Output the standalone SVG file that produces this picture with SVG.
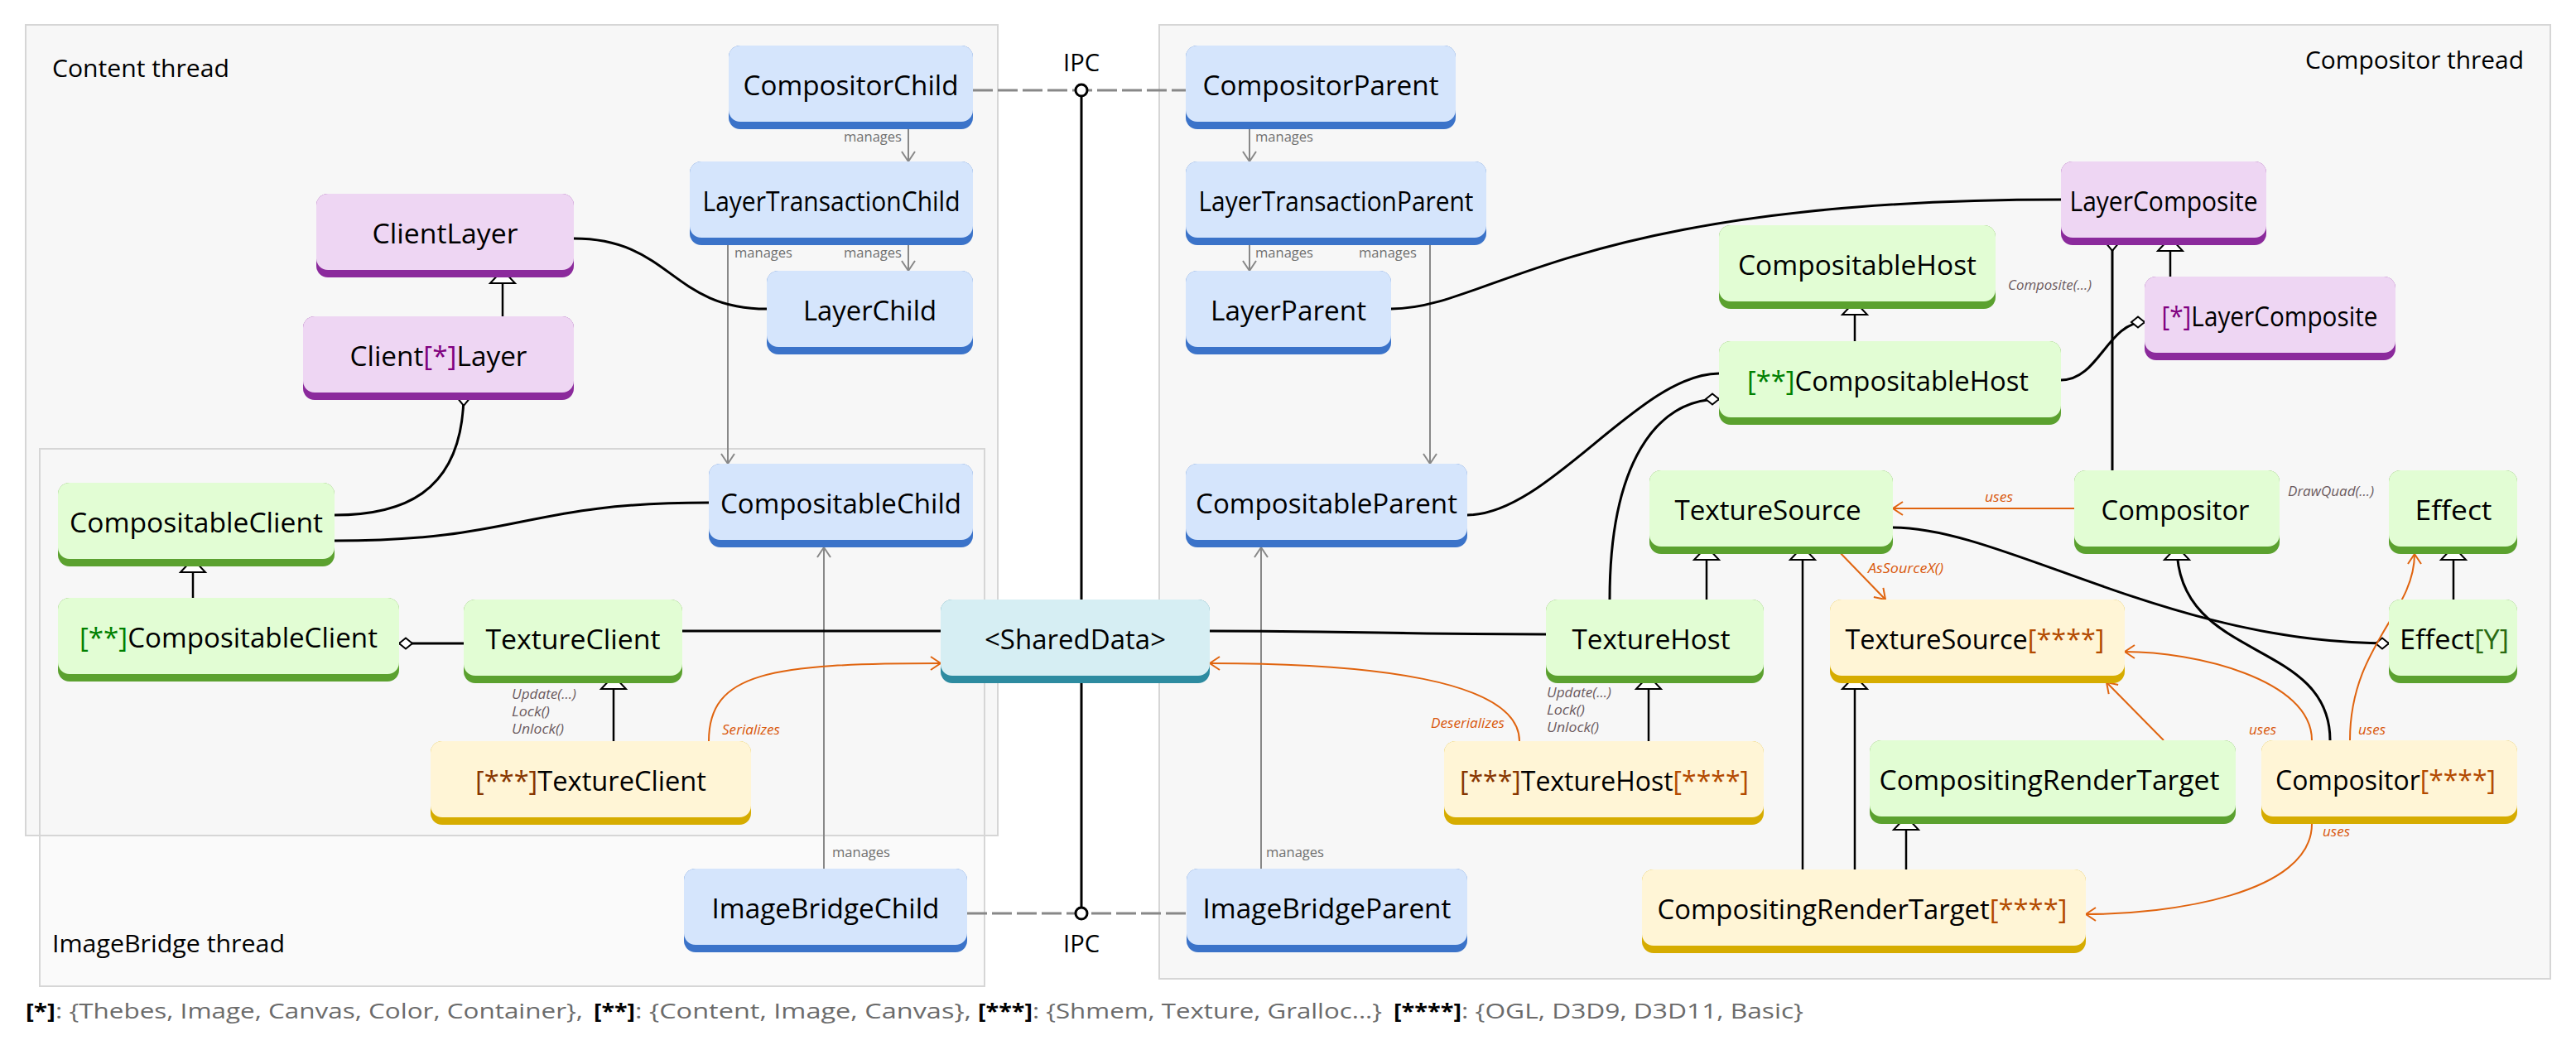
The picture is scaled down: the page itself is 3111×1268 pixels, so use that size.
<svg xmlns="http://www.w3.org/2000/svg" width="3111" height="1268" viewBox="0 0 3111 1268">
<style>
text{font-family:"Open Sans","Liberation Sans",sans-serif}
.lbl{font-size:32px;text-anchor:middle;fill:#000}
.title{font-size:30px;fill:#000}
.blue .b{fill:#3b73c9}.blue .l{fill:#d5e5fc}
.purple .b{fill:#8b2a9c}.purple .l{fill:#eed6f3}
.green .b{fill:#5ba12f}.green .l{fill:#e2fdd4}
.yellow .b{fill:#d6ac00}.yellow .l{fill:#fff5d6}
.cyan .b{fill:#2d8ba0}.cyan .l{fill:#d6eef3}
.s1{fill:#800080}.s2{fill:#008000}.s3{fill:#873600}.s4{fill:#b34a00}.sy{fill:#2a6a12}
.g{stroke:#888;stroke-width:2;fill:none}
.k{stroke:#000;stroke-width:3;fill:none}
.ki{stroke:#000;stroke-width:2.5;fill:none}
.o{stroke:#e0640f;stroke-width:2;fill:none}
.ipc{stroke:#888;stroke-width:3;stroke-dasharray:24 6;fill:none}
.mg{font-size:16px;fill:#707070}
.mt{font-size:17px;font-style:italic;fill:#6b5a5e}
.ol{font-size:17px;font-style:italic;fill:#d9570b}
.lg{font-size:25px;fill:#6b6b6b}
.lb{font-size:25px;font-weight:bold;fill:#000}
.cont{stroke:#d6d6d6;stroke-width:2}
</style>
<defs>
<marker id="tri" markerUnits="userSpaceOnUse" markerWidth="40" markerHeight="40" refX="17" refY="16" orient="auto" style="overflow:visible"><path d="M1,1 L17,16 L1,31 Z" fill="#fff" stroke="#000" stroke-width="2"/></marker>
<marker id="dia" markerUnits="userSpaceOnUse" markerWidth="40" markerHeight="40" refX="0" refY="7" orient="auto" style="overflow:visible"><path d="M0,7 L8,0.5 L16,7 L8,13.5 Z" fill="#fff" stroke="#000" stroke-width="2"/></marker>
<marker id="ag" markerUnits="userSpaceOnUse" markerWidth="40" markerHeight="40" refX="12" refY="8" orient="auto" style="overflow:visible"><path d="M0,0 L12,8 L0,16" fill="none" stroke="#888" stroke-width="2"/></marker>
<marker id="ao" markerUnits="userSpaceOnUse" markerWidth="40" markerHeight="40" refX="12" refY="8" orient="auto" style="overflow:visible"><path d="M0,0 L12,8 L0,16" fill="none" stroke="#e0640f" stroke-width="2"/></marker>
</defs>
<rect width="3111" height="1268" fill="#fff"/>

<g id="containers">
<rect x="48" y="542" width="1141" height="649" fill="#fafafa" class="cont"/>
<rect x="31" y="30" width="1174" height="979" fill="#f7f7f7" class="cont"/>
<rect x="48" y="542" width="1141" height="649" fill="none" class="cont"/>
<rect x="1400" y="30" width="1680" height="1152" fill="#f7f7f7" class="cont"/>
<text class="title" x="63" y="93" textLength="214" lengthAdjust="spacingAndGlyphs">Content thread</text>
<text class="title" x="2784" y="83" textLength="264" lengthAdjust="spacingAndGlyphs">Compositor thread</text>
<text class="title" x="63" y="1150" textLength="281" lengthAdjust="spacingAndGlyphs">ImageBridge thread</text>
<text class="title" x="1306" y="86" text-anchor="middle" textLength="44" lengthAdjust="spacingAndGlyphs">IPC</text>
<text class="title" x="1306" y="1150" text-anchor="middle" textLength="44" lengthAdjust="spacingAndGlyphs">IPC</text>
</g>

<g id="connectors">
<!-- IPC -->
<path class="k" d="M1306,117 L1306,1095"/>
<path class="ipc" d="M1175,109 L1432,109"/>
<path class="ipc" d="M1168,1103 L1434,1103"/>
<circle cx="1306" cy="109" r="7" fill="#fff" stroke="#000" stroke-width="3"/>
<circle cx="1306" cy="1103" r="7" fill="#fff" stroke="#000" stroke-width="3"/>
<!-- manages -->
<path class="g" d="M1097,156 L1097,195" marker-end="url(#ag)"/>
<path class="g" d="M1097,296 L1097,327" marker-end="url(#ag)"/>
<path class="g" d="M879,296 L879,560" marker-end="url(#ag)"/>
<path class="g" d="M1509,156 L1509,195" marker-end="url(#ag)"/>
<path class="g" d="M1509,296 L1509,327" marker-end="url(#ag)"/>
<path class="g" d="M1727,296 L1727,560" marker-end="url(#ag)"/>
<path class="g" d="M995,1049 L995,661" marker-end="url(#ag)"/>
<path class="g" d="M1523,1049 L1523,661" marker-end="url(#ag)"/>
<text class="mg" x="1089" y="171" text-anchor="end" textLength="70" lengthAdjust="spacingAndGlyphs">manages</text>
<text class="mg" x="1089" y="311" text-anchor="end" textLength="70" lengthAdjust="spacingAndGlyphs">manages</text>
<text class="mg" x="887" y="311" textLength="70" lengthAdjust="spacingAndGlyphs">manages</text>
<text class="mg" x="1516" y="171" textLength="70" lengthAdjust="spacingAndGlyphs">manages</text>
<text class="mg" x="1516" y="311" textLength="70" lengthAdjust="spacingAndGlyphs">manages</text>
<text class="mg" x="1711" y="311" text-anchor="end" textLength="70" lengthAdjust="spacingAndGlyphs">manages</text>
<text class="mg" x="1005" y="1035" textLength="70" lengthAdjust="spacingAndGlyphs">manages</text>
<text class="mg" x="1529" y="1035" textLength="70" lengthAdjust="spacingAndGlyphs">manages</text>
<!-- associations -->
<path class="k" d="M693,288 C810,288 810,373 926,373"/>
<path class="k" d="M560,474 C560,600 480,622 404,622" marker-start="url(#dia)"/>
<path class="k" d="M404,653 C630,653 630,607 856,607"/>
<path class="k" d="M482,777 L560,777" marker-start="url(#dia)"/>
<path class="k" d="M824,762 L1136,762"/>
<path class="k" d="M1461,762 C1660,762 1670,766 1867,766"/>
<path class="k" d="M1680,373 C1800,373 1900,241 2489,241"/>
<path class="k" d="M1772,622 C1870,622 1980,451 2076,451"/>
<path class="k" d="M2076,482 C2000,482 1944,560 1944,724" marker-start="url(#dia)"/>
<path class="k" d="M2590,389 C2545,389 2535,459 2489,459" marker-start="url(#dia)"/>
<path class="k" d="M2551,287 L2551,568" marker-start="url(#dia)"/>
<path class="k" d="M2885,777 C2620,777 2420,637 2286,637" marker-start="url(#dia)"/>
<!-- inheritance -->
<path class="ki" d="M607,382 L607,326" marker-end="url(#tri)"/>
<path class="ki" d="M233,722 L233,675" marker-end="url(#tri)"/>
<path class="ki" d="M741,895 L741,816" marker-end="url(#tri)"/>
<path class="ki" d="M1991,895 L1991,816" marker-end="url(#tri)"/>
<path class="ki" d="M2061,724 L2061,660" marker-end="url(#tri)"/>
<path class="ki" d="M2177,1050 L2177,660" marker-end="url(#tri)"/>
<path class="ki" d="M2240,1050 L2240,816" marker-end="url(#tri)"/>
<path class="ki" d="M2302,1050 L2302,986" marker-end="url(#tri)"/>
<path class="ki" d="M2963,724 L2963,660" marker-end="url(#tri)"/>
<path class="ki" d="M2240,412 L2240,364" marker-end="url(#tri)"/>
<path class="ki" d="M2621,334 L2621,287" marker-end="url(#tri)"/>
<path class="k" d="M2814,894 C2814,770 2629,800 2629,660" marker-end="url(#tri)"/>
<!-- uses -->
<path class="o" d="M856,895 C856,812 930,801 1136,801" marker-end="url(#ao)"/>
<path class="o" d="M1835,895 C1835,820 1650,801 1461,801" marker-end="url(#ao)"/>
<path class="o" d="M2505,614 L2286,614" marker-end="url(#ao)"/>
<path class="o" d="M2216,661 L2277,724" marker-end="url(#ao)"/>
<path class="o" d="M2613,894 L2544,824" marker-end="url(#ao)"/>
<path class="o" d="M2792,894 C2792,820 2650,787 2566,787" marker-end="url(#ao)"/>
<path class="o" d="M2838,894 C2838,780 2916,740 2916,669" marker-end="url(#ao)"/>
<path class="o" d="M2792,995 C2792,1080 2620,1104 2519,1104" marker-end="url(#ao)"/>
<text class="ol" x="872" y="887" textLength="70" lengthAdjust="spacingAndGlyphs">Serializes</text>
<text class="ol" x="1817" y="879" text-anchor="end" textLength="89" lengthAdjust="spacingAndGlyphs">Deserializes</text>
<text class="ol" x="2397" y="606" textLength="34" lengthAdjust="spacingAndGlyphs">uses</text>
<text class="ol" x="2256" y="692" textLength="91" lengthAdjust="spacingAndGlyphs">AsSourceX()</text>
<text class="ol" x="2716" y="887" textLength="33" lengthAdjust="spacingAndGlyphs">uses</text>
<text class="ol" x="2848" y="887" textLength="33" lengthAdjust="spacingAndGlyphs">uses</text>
<text class="ol" x="2805" y="1010" textLength="33" lengthAdjust="spacingAndGlyphs">uses</text>
<!-- method notes -->
<text class="mt" x="618" y="844" textLength="78" lengthAdjust="spacingAndGlyphs">Update(...)</text>
<text class="mt" x="618" y="865" textLength="46" lengthAdjust="spacingAndGlyphs">Lock()</text>
<text class="mt" x="618" y="886" textLength="63" lengthAdjust="spacingAndGlyphs">Unlock()</text>
<text class="mt" x="1868" y="842" textLength="78" lengthAdjust="spacingAndGlyphs">Update(...)</text>
<text class="mt" x="1868" y="863" textLength="46" lengthAdjust="spacingAndGlyphs">Lock()</text>
<text class="mt" x="1868" y="884" textLength="63" lengthAdjust="spacingAndGlyphs">Unlock()</text>
<text class="mt" x="2425" y="350" textLength="101" lengthAdjust="spacingAndGlyphs">Composite(...)</text>
<text class="mt" x="2763" y="599" textLength="104" lengthAdjust="spacingAndGlyphs">DrawQuad(...)</text>
</g>

<g id="CompositorChild" class="blue"><rect class="b" x="880" y="55" width="295" height="101" rx="14"/><rect class="l" x="880" y="55" width="295" height="92" rx="14"/><text class="lbl" x="1027.5" y="115" textLength="260" lengthAdjust="spacingAndGlyphs">CompositorChild</text></g>
<g id="LayerTransactionChild" class="blue"><rect class="b" x="833" y="195" width="342" height="101" rx="14"/><rect class="l" x="833" y="195" width="342" height="92" rx="14"/><text class="lbl" x="1004" y="255" textLength="311" lengthAdjust="spacingAndGlyphs">LayerTransactionChild</text></g>
<g id="LayerChild" class="blue"><rect class="b" x="926" y="327" width="249" height="101" rx="14"/><rect class="l" x="926" y="327" width="249" height="92" rx="14"/><text class="lbl" x="1050.5" y="387" textLength="161" lengthAdjust="spacingAndGlyphs">LayerChild</text></g>
<g id="ClientLayer" class="purple"><rect class="b" x="382" y="234" width="311" height="101" rx="14"/><rect class="l" x="382" y="234" width="311" height="92" rx="14"/><text class="lbl" x="537.5" y="294" textLength="176" lengthAdjust="spacingAndGlyphs">ClientLayer</text></g>
<g id="ClientStarLayer" class="purple"><rect class="b" x="366" y="382" width="327" height="101" rx="14"/><rect class="l" x="366" y="382" width="327" height="92" rx="14"/><text class="lbl" x="529.5" y="442" textLength="214" lengthAdjust="spacingAndGlyphs">Client<tspan class="s1">[*]</tspan>Layer</text></g>
<g id="CompositableChild" class="blue"><rect class="b" x="856" y="560" width="319" height="101" rx="14"/><rect class="l" x="856" y="560" width="319" height="92" rx="14"/><text class="lbl" x="1015.5" y="620" textLength="291" lengthAdjust="spacingAndGlyphs">CompositableChild</text></g>
<g id="CompositableClient" class="green"><rect class="b" x="70" y="583" width="334" height="101" rx="14"/><rect class="l" x="70" y="583" width="334" height="92" rx="14"/><text class="lbl" x="237" y="643" textLength="306" lengthAdjust="spacingAndGlyphs">CompositableClient</text></g>
<g id="StarStarCompositableClient" class="green"><rect class="b" x="70" y="722" width="412" height="101" rx="14"/><rect class="l" x="70" y="722" width="412" height="92" rx="14"/><text class="lbl" x="276" y="782" textLength="360" lengthAdjust="spacingAndGlyphs"><tspan class="s2">[**]</tspan>CompositableClient</text></g>
<g id="TextureClient" class="green"><rect class="b" x="560" y="724" width="264" height="101" rx="14"/><rect class="l" x="560" y="724" width="264" height="92" rx="14"/><text class="lbl" x="692" y="784" textLength="211" lengthAdjust="spacingAndGlyphs">TextureClient</text></g>
<g id="TripleStarTextureClient" class="yellow"><rect class="b" x="520" y="895" width="387" height="101" rx="14"/><rect class="l" x="520" y="895" width="387" height="92" rx="14"/><text class="lbl" x="713.5" y="955" textLength="279" lengthAdjust="spacingAndGlyphs"><tspan class="s3">[***]</tspan>TextureClient</text></g>
<g id="ImageBridgeChild" class="blue"><rect class="b" x="826" y="1049" width="342" height="101" rx="14"/><rect class="l" x="826" y="1049" width="342" height="92" rx="14"/><text class="lbl" x="997" y="1109" textLength="275" lengthAdjust="spacingAndGlyphs">ImageBridgeChild</text></g>
<g id="SharedData" class="cyan"><rect class="b" x="1136" y="724" width="325" height="101" rx="14"/><rect class="l" x="1136" y="724" width="325" height="92" rx="14"/><text class="lbl" x="1298.5" y="784" textLength="219" lengthAdjust="spacingAndGlyphs">&lt;SharedData&gt;</text></g>
<g id="CompositorParent" class="blue"><rect class="b" x="1432" y="55" width="326" height="101" rx="14"/><rect class="l" x="1432" y="55" width="326" height="92" rx="14"/><text class="lbl" x="1595" y="115" textLength="285" lengthAdjust="spacingAndGlyphs">CompositorParent</text></g>
<g id="LayerTransactionParent" class="blue"><rect class="b" x="1432" y="195" width="363" height="101" rx="14"/><rect class="l" x="1432" y="195" width="363" height="92" rx="14"/><text class="lbl" x="1613.5" y="255" textLength="332" lengthAdjust="spacingAndGlyphs">LayerTransactionParent</text></g>
<g id="LayerParent" class="blue"><rect class="b" x="1432" y="327" width="248" height="101" rx="14"/><rect class="l" x="1432" y="327" width="248" height="92" rx="14"/><text class="lbl" x="1556" y="387" textLength="188" lengthAdjust="spacingAndGlyphs">LayerParent</text></g>
<g id="CompositableParent" class="blue"><rect class="b" x="1432" y="560" width="340" height="101" rx="14"/><rect class="l" x="1432" y="560" width="340" height="92" rx="14"/><text class="lbl" x="1602" y="620" textLength="316" lengthAdjust="spacingAndGlyphs">CompositableParent</text></g>
<g id="ImageBridgeParent" class="blue"><rect class="b" x="1433" y="1049" width="339" height="101" rx="14"/><rect class="l" x="1433" y="1049" width="339" height="92" rx="14"/><text class="lbl" x="1602.5" y="1109" textLength="300" lengthAdjust="spacingAndGlyphs">ImageBridgeParent</text></g>
<g id="CompositableHost" class="green"><rect class="b" x="2076" y="272" width="334" height="101" rx="14"/><rect class="l" x="2076" y="272" width="334" height="92" rx="14"/><text class="lbl" x="2243" y="332" textLength="288" lengthAdjust="spacingAndGlyphs">CompositableHost</text></g>
<g id="StarStarCompositableHost" class="green"><rect class="b" x="2076" y="412" width="413" height="101" rx="14"/><rect class="l" x="2076" y="412" width="413" height="92" rx="14"/><text class="lbl" x="2280" y="472" textLength="340" lengthAdjust="spacingAndGlyphs"><tspan class="s2">[**]</tspan>CompositableHost</text></g>
<g id="LayerComposite" class="purple"><rect class="b" x="2489" y="195" width="248" height="101" rx="14"/><rect class="l" x="2489" y="195" width="248" height="92" rx="14"/><text class="lbl" x="2613" y="255" textLength="227" lengthAdjust="spacingAndGlyphs">LayerComposite</text></g>
<g id="StarLayerComposite" class="purple"><rect class="b" x="2590" y="334" width="303" height="101" rx="14"/><rect class="l" x="2590" y="334" width="303" height="92" rx="14"/><text class="lbl" x="2741" y="394" textLength="261" lengthAdjust="spacingAndGlyphs"><tspan class="s1">[*]</tspan>LayerComposite</text></g>
<g id="TextureSource" class="green"><rect class="b" x="1992" y="568" width="294" height="101" rx="14"/><rect class="l" x="1992" y="568" width="294" height="92" rx="14"/><text class="lbl" x="2135" y="628" textLength="225" lengthAdjust="spacingAndGlyphs">TextureSource</text></g>
<g id="Compositor" class="green"><rect class="b" x="2505" y="568" width="248" height="101" rx="14"/><rect class="l" x="2505" y="568" width="248" height="92" rx="14"/><text class="lbl" x="2627" y="628" textLength="179" lengthAdjust="spacingAndGlyphs">Compositor</text></g>
<g id="Effect" class="green"><rect class="b" x="2885" y="568" width="155" height="101" rx="14"/><rect class="l" x="2885" y="568" width="155" height="92" rx="14"/><text class="lbl" x="2963" y="628" textLength="93" lengthAdjust="spacingAndGlyphs">Effect</text></g>
<g id="TextureHost" class="green"><rect class="b" x="1867" y="724" width="263" height="101" rx="14"/><rect class="l" x="1867" y="724" width="263" height="92" rx="14"/><text class="lbl" x="1994" y="784" textLength="191" lengthAdjust="spacingAndGlyphs">TextureHost</text></g>
<g id="TextureSourceX" class="yellow"><rect class="b" x="2210" y="724" width="356" height="101" rx="14"/><rect class="l" x="2210" y="724" width="356" height="92" rx="14"/><text class="lbl" x="2385" y="784" textLength="313" lengthAdjust="spacingAndGlyphs">TextureSource<tspan class="s4">[****]</tspan></text></g>
<g id="EffectY" class="green"><rect class="b" x="2885" y="724" width="155" height="101" rx="14"/><rect class="l" x="2885" y="724" width="155" height="92" rx="14"/><text class="lbl" x="2964" y="784" textLength="132" lengthAdjust="spacingAndGlyphs">Effect<tspan class="sy">[Y]</tspan></text></g>
<g id="TripleStarTextureHostX" class="yellow"><rect class="b" x="1744" y="895" width="386" height="101" rx="14"/><rect class="l" x="1744" y="895" width="386" height="92" rx="14"/><text class="lbl" x="1937.5" y="955" textLength="349" lengthAdjust="spacingAndGlyphs"><tspan class="s3">[***]</tspan>TextureHost<tspan class="s4">[****]</tspan></text></g>
<g id="CompositingRenderTarget" class="green"><rect class="b" x="2258" y="894" width="442" height="101" rx="14"/><rect class="l" x="2258" y="894" width="442" height="92" rx="14"/><text class="lbl" x="2475" y="954" textLength="411" lengthAdjust="spacingAndGlyphs">CompositingRenderTarget</text></g>
<g id="CompositorX" class="yellow"><rect class="b" x="2731" y="894" width="309" height="101" rx="14"/><rect class="l" x="2731" y="894" width="309" height="92" rx="14"/><text class="lbl" x="2881" y="954" textLength="266" lengthAdjust="spacingAndGlyphs">Compositor<tspan class="s4">[****]</tspan></text></g>
<g id="CompositingRenderTargetX" class="yellow"><rect class="b" x="1983" y="1050" width="536" height="101" rx="14"/><rect class="l" x="1983" y="1050" width="536" height="92" rx="14"/><text class="lbl" x="2249" y="1110" textLength="495" lengthAdjust="spacingAndGlyphs">CompositingRenderTarget<tspan class="s4">[****]</tspan></text></g>

<g id="legend">
<text class="lb" x="31" y="1230" textLength="36" lengthAdjust="spacingAndGlyphs">[*]</text>
<text class="lg" x="67" y="1230" textLength="637" lengthAdjust="spacingAndGlyphs">: {Thebes, Image, Canvas, Color, Container},</text>
<text class="lb" x="717" y="1230" textLength="50" lengthAdjust="spacingAndGlyphs">[**]</text>
<text class="lg" x="767" y="1230" textLength="406" lengthAdjust="spacingAndGlyphs">: {Content, Image, Canvas},</text>
<text class="lb" x="1181" y="1230" textLength="66" lengthAdjust="spacingAndGlyphs">[***]</text>
<text class="lg" x="1247" y="1230" textLength="422" lengthAdjust="spacingAndGlyphs">: {Shmem, Texture, Gralloc...}</text>
<text class="lb" x="1683" y="1230" textLength="82" lengthAdjust="spacingAndGlyphs">[****]</text>
<text class="lg" x="1765" y="1230" textLength="413" lengthAdjust="spacingAndGlyphs">: {OGL, D3D9, D3D11, Basic}</text>
</g>
</svg>
